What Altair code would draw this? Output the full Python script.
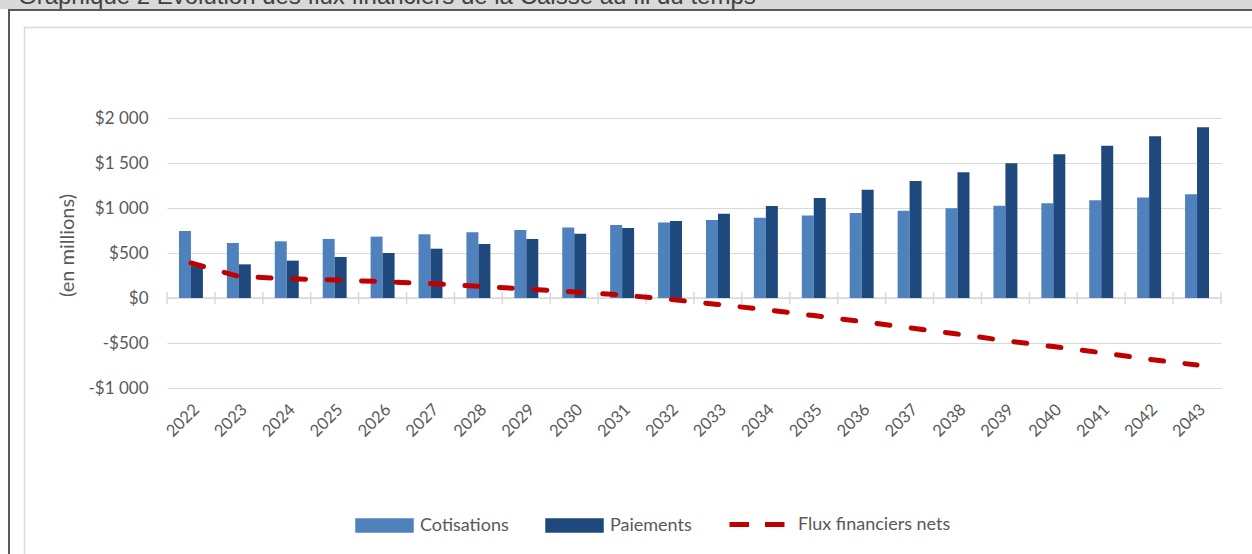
import altair as alt
import pandas as pd

# ---- data ----
years = ["2022", "2023", "2024", "2025", "2026", "2027", "2028", "2029", "2030", "2031", "2032",
         "2033", "2034", "2035", "2036", "2037", "2038", "2039", "2040", "2041", "2042", "2043"]
cotisations = [744, 611, 630, 656, 682, 708, 730, 756, 782, 811, 840,
               866, 892, 918, 944, 970, 996, 1026, 1052, 1085, 1118, 1152]
paiements = [355, 374, 415, 456, 500, 548, 600, 656, 715, 778, 855,
             937, 1022, 1111, 1204, 1300, 1396, 1496, 1596, 1692, 1796, 1896]
flux_nets = [389, 240, 215, 200, 182, 160, 130, 100, 67, 33, -15,
             -72, -130, -195, -262, -332, -400, -474, -540, -607, -682, -745]
series_bars = ["Cotisations", "Paiements"]
serie_line = "Flux financiers nets"
y_ticks = [-1000, -500, 0, 500, 1000, 1500, 2000]
title_text = "Graphique 2 Évolution des flux financiers de la Caisse au fil du temps"

bars_df = pd.DataFrame({
    "annee": years * 2,
    "serie": [series_bars[0]] * len(years) + [series_bars[1]] * len(years),
    "valeur": cotisations + paiements,
})
net_df = pd.DataFrame({"annee": years, "valeur": flux_nets, "serie": serie_line})
tick_df = pd.DataFrame({"annee": years})
one = pd.DataFrame({"k": [0]})

# ---- layout (page pixels) ----
PAGE_W, PAGE_H = 1252, 554
PL, PT, PR, PB = 167, 118, 31, 166
W, H = PAGE_W - PL - PR, PAGE_H - PT - PB

FONT = "Lato"
TXT = "#595959"
GRID = "#d9d9d9"
LEG_Y = 525  # page y of the legend row centre

xscale = alt.Scale(domain=years, paddingInner=0, paddingOuter=0)
yscale = alt.Scale(domain=[-1000, 2000], nice=False, zero=False)

xaxis = alt.Axis(title=None, labelAngle=-45, labelAlign="right", labelBaseline="top",
                 labelPadding=13, domain=False, ticks=False, grid=False,
                 labelFont=FONT, labelFontSize=16.5, labelColor=TXT)
yaxis = alt.Axis(values=y_ticks, title="(en millions)",
                 labelExpr="(datum.value < 0 ? '-$' : '$') + replace(format(abs(datum.value), ','), ',', ' ')",
                 domain=False, ticks=False, grid=True, gridColor=GRID, gridWidth=1.2,
                 labelFont=FONT, labelFontSize=17, labelColor=TXT, labelPadding=19,
                 titleFont=FONT, titleFontSize=20, titleColor=TXT, titleFontWeight="normal",
                 titleAngle=270, titleAlign="center", titleBaseline="middle",
                 titleX=67 - PL, titleY=245 - PT)

# ---- decorations of the frame ----
header = alt.Chart(one).mark_rect(color="#d9d9d9").encode(
    x=alt.value(-PL), x2=alt.value(PAGE_W - PL), y=alt.value(-PT), y2=alt.value(9 - PT))
title = alt.Chart(one).mark_text(text=title_text, align="left", baseline="alphabetic",
                                 font="Liberation Sans", fontSize=24, color="#404040").encode(
    x=alt.value(18 - PL), y=alt.value(4 - PT))
border_top = alt.Chart(one).mark_rect(color="#595959").encode(
    x=alt.value(8 - PL), x2=alt.value(PAGE_W - PL), y=alt.value(9 - PT), y2=alt.value(11 - PT))
border_left = alt.Chart(one).mark_rect(color="#595959").encode(
    x=alt.value(8 - PL), x2=alt.value(10 - PL), y=alt.value(9 - PT), y2=alt.value(PAGE_H - PT))
inner = alt.Chart(one).mark_rect(fillOpacity=0, stroke=GRID, strokeWidth=1.5).encode(
    x=alt.value(24.5 - PL), x2=alt.value(PAGE_W + 20 - PL), y=alt.value(27.5 - PT), y2=alt.value(PAGE_H + 20 - PT))

# ---- chart ----
zero_line = alt.Chart(one).mark_rule(color=GRID, strokeWidth=1.5).encode(
    y=alt.YDatum(0, scale=yscale, axis=yaxis))

ticks_start = alt.Chart(tick_df).mark_rule(color=GRID, strokeWidth=1.5).encode(
    x=alt.X("annee:N", scale=xscale, axis=xaxis, bandPosition=0),
    y=alt.YDatum(-66, scale=yscale, axis=yaxis), y2=alt.Y2Datum(66))
ticks_end = alt.Chart(tick_df).transform_filter(
    alt.datum.annee == years[-1]).mark_rule(color=GRID, strokeWidth=1.5).encode(
    x=alt.X("annee:N", scale=xscale, axis=xaxis, bandPosition=1),
    y=alt.YDatum(-66, scale=yscale, axis=yaxis), y2=alt.Y2Datum(66))

bar_sym = 58.5
bars = alt.Chart(bars_df).mark_bar().encode(
    x=alt.X("annee:N", scale=xscale, axis=xaxis),
    xOffset=alt.XOffset("serie:N", scale=alt.Scale(domain=series_bars, paddingInner=0, paddingOuter=1)),
    y=alt.Y("valeur:Q", scale=yscale, axis=yaxis),
    color=alt.Color("serie:N",
                    scale=alt.Scale(domain=series_bars, range=["#4f81bd", "#1f497d"]),
                    legend=alt.Legend(orient="none", legendX=355 - PL, legendY=LEG_Y - bar_sym / 2 - PT,
                                      direction="horizontal", title=None,
                                      symbolType="M-1,-0.245L1,-0.245L1,0.245L-1,0.245Z",
                                      symbolSize=bar_sym ** 2,
                                      symbolStrokeWidth=0, symbolOpacity=1,
                                      labelFont=FONT, labelFontSize=18, labelColor=TXT,
                                      labelOffset=6, columnPadding=36)),
)

line_sym = 55
line = alt.Chart(net_df).mark_line(strokeWidth=5, strokeDash=[13, 21.5], strokeCap="round").encode(
    x=alt.X("annee:N", scale=xscale, axis=xaxis),
    y=alt.Y("valeur:Q", scale=yscale, axis=yaxis),
    stroke=alt.Stroke("serie:N", scale=alt.Scale(domain=[serie_line], range=["#c00000"]),
                      legend=alt.Legend(orient="none", legendX=727 - PL, legendY=LEG_Y - 3 - line_sym / 2 - PT,
                                        direction="horizontal", title=None,
                                        symbolType="stroke", symbolSize=line_sym ** 2, symbolStrokeWidth=5,
                                        symbolDash=[19.5, 16],
                                        labelFont=FONT, labelFontSize=18, labelColor=TXT, labelOffset=11)),
)

chart = alt.layer(header, title, border_top, border_left, inner,
                  zero_line, ticks_start, ticks_end, bars, line).properties(
    width=W, height=H,
    padding={"left": PL, "top": PT, "right": PR, "bottom": PB},
    autosize=alt.AutoSizeParams(type="none"),
    background="white",
).configure_view(strokeWidth=0)

chart.save("out.html", embed_options={"renderer": "svg", "actions": False})
